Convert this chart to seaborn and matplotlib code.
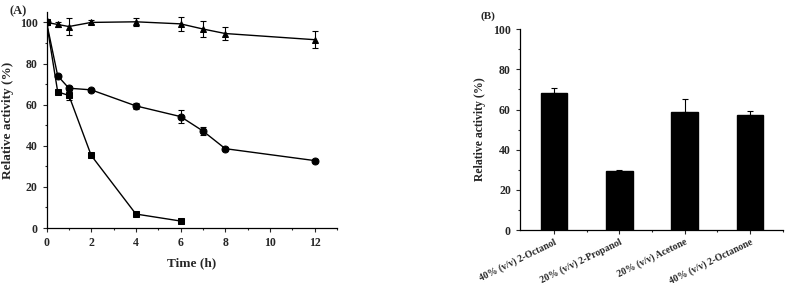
import numpy as np
import pandas as pd
import matplotlib
matplotlib.use("Agg")
import matplotlib.pyplot as plt
from matplotlib.ticker import MultipleLocator
import seaborn as sns

# panel A: stability over time
time_tri = [0, 0.5, 1, 2, 4, 6, 7, 8, 12]
act_tri = [100, 99, 98, 100, 100.3, 99.3, 96.8, 94.6, 91.6]
err_tri = [1, 1, 4, 1, 2, 3.3, 4, 3.3, 4]

time_cir = [0, 0.5, 1, 2, 4, 6, 7, 8, 12]
act_cir = [100, 74, 68, 67.2, 59.4, 54.2, 47.2, 38.6, 32.8]
err_cir = [1, 0.6, 1, 0.6, 1.5, 3, 1.8, 0.6, 0.6]

time_sq = [0, 0.5, 1, 2, 4, 6]
act_sq = [100, 66.2, 64.5, 35.3, 6.8, 3.4]
err_sq = [1, 0.6, 2, 0.6, 0.6, 0.6]

# panel B: solvents
solvents = ["40% (v/v) 2-Octanol", "20% (v/v) 2-Propanol",
            "20% (v/v) Acetone", "40% (v/v) 2-Octanone"]
act_solv = [68, 29.3, 59, 57.5]
err_solv = [2.8, 0.4, 6, 1.8]

sns.set_style("ticks")
plt.rcParams['font.family'] = ['Liberation Serif', 'DejaVu Serif']
plt.rcParams['font.weight'] = 'bold'
plt.rcParams['axes.labelweight'] = 'bold'

fig = plt.figure(figsize=(7.89, 2.89), dpi=100)
axA = fig.add_axes([0.059, 0.211, 0.368, 0.747])
axB = fig.add_axes([0.659, 0.204, 0.333, 0.695])

series = [(time_tri, act_tri, err_tri, '^'),
          (time_cir, act_cir, err_cir, 'o'),
          (time_sq, act_sq, err_sq, 's')]
for t, a, e, m in series:
    df = pd.DataFrame({'t': t, 'a': a})
    sns.lineplot(data=df, x='t', y='a', ax=axA, color='black', lw=1,
                 marker=m, markersize=5, markeredgecolor='black')
    axA.errorbar(t, a, yerr=e, fmt='none', ecolor='black', elinewidth=0.8,
                 capsize=2, capthick=0.8)

axA.set_xlim(0, 13)
axA.set_ylim(0, 105)
axA.xaxis.set_major_locator(MultipleLocator(2))
axA.xaxis.set_minor_locator(MultipleLocator(1))
axA.yaxis.set_major_locator(MultipleLocator(20))
axA.yaxis.set_minor_locator(MultipleLocator(10))
axA.set_xlabel("Time (h)", fontsize=9.5, labelpad=6)
axA.set_ylabel("Relative activity (%)", fontsize=9.5, labelpad=4)
fig.text(0.012, 0.96, "(A)", fontsize=9, fontweight='bold', va='center')

dfB = pd.DataFrame({'solvent': solvents, 'act': act_solv})
sns.barplot(data=dfB, x='solvent', y='act', ax=axB, color='black',
            width=0.41, edgecolor='black', saturation=1)
axB.errorbar(range(len(solvents)), act_solv,
             yerr=[np.zeros(len(err_solv)), err_solv], fmt='none',
             ecolor='black', elinewidth=0.8, capsize=2.5, capthick=0.8)
axB.set_xlim(-0.52, 3.5)
axB.set_ylim(0, 100)
axB.yaxis.set_major_locator(MultipleLocator(20))
axB.yaxis.set_minor_locator(MultipleLocator(10))
axB.set_xlabel("")
axB.set_ylabel("Relative activity (%)", fontsize=8.5, labelpad=5)
axB.set_xticks(range(len(solvents)))
axB.set_xticks([0.5, 1.5, 2.5, 3.5], minor=True)
axB.set_xticklabels(solvents, rotation=26, ha='right', rotation_mode='anchor')
fig.text(0.609, 0.945, "(B)", fontsize=8, fontweight='bold', va='center')

for ax in (axA, axB):
    sns.despine(ax=ax)
    ax.tick_params(which='major', direction='out', length=3, width=0.8,
                   labelsize=8.5)
    ax.tick_params(which='minor', direction='out', length=1.5, width=0.8)
    for s in ('left', 'bottom'):
        ax.spines[s].set_linewidth(0.9)
        ax.spines[s].set_color('black')
    for lab in ax.get_xticklabels() + ax.get_yticklabels():
        lab.set_fontweight('bold')
axB.tick_params(axis='x', labelsize=7, pad=2)

fig.savefig("out.png", dpi=100)
